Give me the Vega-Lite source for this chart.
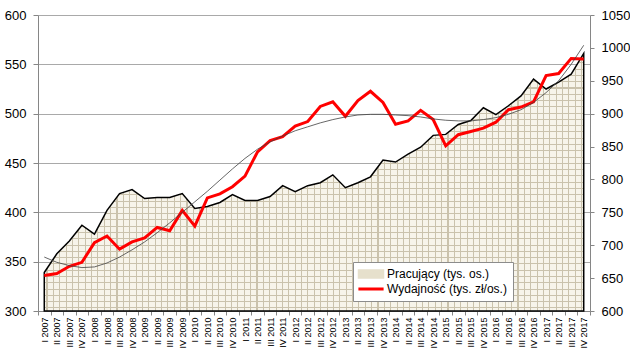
{
"$schema":"https://vega.github.io/schema/vega-lite/v6.json",
"width":552,"height":296,
"autosize":{"type":"none"},
"padding":{"left":38,"top":15,"right":40,"bottom":44},
"background":"white",
"config":{"view":{"stroke":null},"font":"Liberation Sans"},
"data":{"values":[
{"q":"I 2007","prac":339,"wyd":654,"trend":682},
{"q":"II 2007","prac":358,"wyd":657,"trend":674},
{"q":"III 2007","prac":371,"wyd":668,"trend":669},
{"q":"IV 2007","prac":387,"wyd":674,"trend":666},
{"q":"I 2008","prac":378,"wyd":704,"trend":667},
{"q":"II 2008","prac":402,"wyd":714,"trend":673},
{"q":"III 2008","prac":419,"wyd":694,"trend":682},
{"q":"IV 2008","prac":423,"wyd":705,"trend":693},
{"q":"I 2009","prac":414,"wyd":711,"trend":705},
{"q":"II 2009","prac":415,"wyd":727,"trend":719},
{"q":"III 2009","prac":415,"wyd":722,"trend":734},
{"q":"IV 2009","prac":419,"wyd":753,"trend":750},
{"q":"I 2010","prac":404,"wyd":729,"trend":766},
{"q":"II 2010","prac":406,"wyd":772,"trend":782},
{"q":"III 2010","prac":410,"wyd":778,"trend":799},
{"q":"IV 2010","prac":418,"wyd":789,"trend":816},
{"q":"I 2011","prac":412,"wyd":805,"trend":832},
{"q":"II 2011","prac":412,"wyd":842,"trend":846},
{"q":"III 2011","prac":416,"wyd":859,"trend":857},
{"q":"IV 2011","prac":427,"wyd":865,"trend":866},
{"q":"I 2012","prac":421,"wyd":881,"trend":874},
{"q":"II 2012","prac":427,"wyd":888,"trend":880},
{"q":"III 2012","prac":430,"wyd":911,"trend":886},
{"q":"IV 2012","prac":438,"wyd":918,"trend":891},
{"q":"I 2013","prac":425,"wyd":896,"trend":895},
{"q":"II 2013","prac":430,"wyd":920,"trend":898},
{"q":"III 2013","prac":436,"wyd":934,"trend":899},
{"q":"IV 2013","prac":453,"wyd":917,"trend":899},
{"q":"I 2014","prac":451,"wyd":884,"trend":898},
{"q":"II 2014","prac":459,"wyd":889,"trend":897},
{"q":"III 2014","prac":466,"wyd":905,"trend":895},
{"q":"IV 2014","prac":478,"wyd":891,"trend":892},
{"q":"I 2015","prac":479,"wyd":851,"trend":890},
{"q":"II 2015","prac":489,"wyd":868,"trend":889},
{"q":"III 2015","prac":493,"wyd":873,"trend":889},
{"q":"IV 2015","prac":506,"wyd":878,"trend":891},
{"q":"I 2016","prac":499,"wyd":887,"trend":894},
{"q":"II 2016","prac":508,"wyd":906,"trend":899},
{"q":"III 2016","prac":518,"wyd":910,"trend":906},
{"q":"IV 2016","prac":535,"wyd":918,"trend":917},
{"q":"I 2017","prac":525,"wyd":958,"trend":932},
{"q":"II 2017","prac":532,"wyd":961,"trend":950},
{"q":"III 2017","prac":540,"wyd":984,"trend":975},
{"q":"IV 2017","prac":561,"wyd":983,"trend":1004}
]},
"encoding":{"x":{"field":"q","type":"ordinal","sort":null,"scale":{"type":"band","paddingInner":0,"paddingOuter":0},
 "axis":{"title":null,"labelAngle":-90,"labelFontSize":9,"labelColor":"#000000","domainColor":"#868686","tickColor":"#868686","tickSize":4,"tickBand":"extent","labelPadding":2,"grid":false}}},
"layer":[
{"layer":[
 {"mark":{"type":"area","stroke":null,"fill":{"gradient":"linear","x1":0,"y1":0,"x2":0,"y2":1,"stops":[
{"offset":0,"color":"#f7f4ea"},
{"offset":0.01,"color":"#f7f4ea"},{"offset":0.01,"color":"#cac2ac"},{"offset":0.014,"color":"#cac2ac"},{"offset":0.014,"color":"#f7f4ea"},
{"offset":0.0344,"color":"#f7f4ea"},{"offset":0.0344,"color":"#cac2ac"},{"offset":0.0384,"color":"#cac2ac"},{"offset":0.0384,"color":"#f7f4ea"},
{"offset":0.0588,"color":"#f7f4ea"},{"offset":0.0588,"color":"#cac2ac"},{"offset":0.0628,"color":"#cac2ac"},{"offset":0.0628,"color":"#f7f4ea"},
{"offset":0.0832,"color":"#f7f4ea"},{"offset":0.0832,"color":"#cac2ac"},{"offset":0.0872,"color":"#cac2ac"},{"offset":0.0872,"color":"#f7f4ea"},
{"offset":0.1076,"color":"#f7f4ea"},{"offset":0.1076,"color":"#cac2ac"},{"offset":0.1116,"color":"#cac2ac"},{"offset":0.1116,"color":"#f7f4ea"},
{"offset":0.132,"color":"#f7f4ea"},{"offset":0.132,"color":"#cac2ac"},{"offset":0.136,"color":"#cac2ac"},{"offset":0.136,"color":"#f7f4ea"},
{"offset":0.1564,"color":"#f7f4ea"},{"offset":0.1564,"color":"#cac2ac"},{"offset":0.1604,"color":"#cac2ac"},{"offset":0.1604,"color":"#f7f4ea"},
{"offset":0.1808,"color":"#f7f4ea"},{"offset":0.1808,"color":"#cac2ac"},{"offset":0.1848,"color":"#cac2ac"},{"offset":0.1848,"color":"#f7f4ea"},
{"offset":0.2052,"color":"#f7f4ea"},{"offset":0.2052,"color":"#cac2ac"},{"offset":0.2092,"color":"#cac2ac"},{"offset":0.2092,"color":"#f7f4ea"},
{"offset":0.2296,"color":"#f7f4ea"},{"offset":0.2296,"color":"#cac2ac"},{"offset":0.2336,"color":"#cac2ac"},{"offset":0.2336,"color":"#f7f4ea"},
{"offset":0.254,"color":"#f7f4ea"},{"offset":0.254,"color":"#cac2ac"},{"offset":0.258,"color":"#cac2ac"},{"offset":0.258,"color":"#f7f4ea"},
{"offset":0.2784,"color":"#f7f4ea"},{"offset":0.2784,"color":"#cac2ac"},{"offset":0.2824,"color":"#cac2ac"},{"offset":0.2824,"color":"#f7f4ea"},
{"offset":0.3028,"color":"#f7f4ea"},{"offset":0.3028,"color":"#cac2ac"},{"offset":0.3068,"color":"#cac2ac"},{"offset":0.3068,"color":"#f7f4ea"},
{"offset":0.3272,"color":"#f7f4ea"},{"offset":0.3272,"color":"#cac2ac"},{"offset":0.3312,"color":"#cac2ac"},{"offset":0.3312,"color":"#f7f4ea"},
{"offset":0.3516,"color":"#f7f4ea"},{"offset":0.3516,"color":"#cac2ac"},{"offset":0.3556,"color":"#cac2ac"},{"offset":0.3556,"color":"#f7f4ea"},
{"offset":0.376,"color":"#f7f4ea"},{"offset":0.376,"color":"#cac2ac"},{"offset":0.38,"color":"#cac2ac"},{"offset":0.38,"color":"#f7f4ea"},
{"offset":0.4004,"color":"#f7f4ea"},{"offset":0.4004,"color":"#cac2ac"},{"offset":0.4044,"color":"#cac2ac"},{"offset":0.4044,"color":"#f7f4ea"},
{"offset":0.4248,"color":"#f7f4ea"},{"offset":0.4248,"color":"#cac2ac"},{"offset":0.4288,"color":"#cac2ac"},{"offset":0.4288,"color":"#f7f4ea"},
{"offset":0.4492,"color":"#f7f4ea"},{"offset":0.4492,"color":"#cac2ac"},{"offset":0.4532,"color":"#cac2ac"},{"offset":0.4532,"color":"#f7f4ea"},
{"offset":0.4736,"color":"#f7f4ea"},{"offset":0.4736,"color":"#cac2ac"},{"offset":0.4776,"color":"#cac2ac"},{"offset":0.4776,"color":"#f7f4ea"},
{"offset":0.498,"color":"#f7f4ea"},{"offset":0.498,"color":"#cac2ac"},{"offset":0.502,"color":"#cac2ac"},{"offset":0.502,"color":"#f7f4ea"},
{"offset":0.5224,"color":"#f7f4ea"},{"offset":0.5224,"color":"#cac2ac"},{"offset":0.5264,"color":"#cac2ac"},{"offset":0.5264,"color":"#f7f4ea"},
{"offset":0.5468,"color":"#f7f4ea"},{"offset":0.5468,"color":"#cac2ac"},{"offset":0.5508,"color":"#cac2ac"},{"offset":0.5508,"color":"#f7f4ea"},
{"offset":0.5712,"color":"#f7f4ea"},{"offset":0.5712,"color":"#cac2ac"},{"offset":0.5752,"color":"#cac2ac"},{"offset":0.5752,"color":"#f7f4ea"},
{"offset":0.5956,"color":"#f7f4ea"},{"offset":0.5956,"color":"#cac2ac"},{"offset":0.5996,"color":"#cac2ac"},{"offset":0.5996,"color":"#f7f4ea"},
{"offset":0.62,"color":"#f7f4ea"},{"offset":0.62,"color":"#cac2ac"},{"offset":0.624,"color":"#cac2ac"},{"offset":0.624,"color":"#f7f4ea"},
{"offset":0.6444,"color":"#f7f4ea"},{"offset":0.6444,"color":"#cac2ac"},{"offset":0.6484,"color":"#cac2ac"},{"offset":0.6484,"color":"#f7f4ea"},
{"offset":0.6688,"color":"#f7f4ea"},{"offset":0.6688,"color":"#cac2ac"},{"offset":0.6728,"color":"#cac2ac"},{"offset":0.6728,"color":"#f7f4ea"},
{"offset":0.6932,"color":"#f7f4ea"},{"offset":0.6932,"color":"#cac2ac"},{"offset":0.6972,"color":"#cac2ac"},{"offset":0.6972,"color":"#f7f4ea"},
{"offset":0.7176,"color":"#f7f4ea"},{"offset":0.7176,"color":"#cac2ac"},{"offset":0.7216,"color":"#cac2ac"},{"offset":0.7216,"color":"#f7f4ea"},
{"offset":0.742,"color":"#f7f4ea"},{"offset":0.742,"color":"#cac2ac"},{"offset":0.746,"color":"#cac2ac"},{"offset":0.746,"color":"#f7f4ea"},
{"offset":0.7664,"color":"#f7f4ea"},{"offset":0.7664,"color":"#cac2ac"},{"offset":0.7704,"color":"#cac2ac"},{"offset":0.7704,"color":"#f7f4ea"},
{"offset":0.7908,"color":"#f7f4ea"},{"offset":0.7908,"color":"#cac2ac"},{"offset":0.7948,"color":"#cac2ac"},{"offset":0.7948,"color":"#f7f4ea"},
{"offset":0.8152,"color":"#f7f4ea"},{"offset":0.8152,"color":"#cac2ac"},{"offset":0.8192,"color":"#cac2ac"},{"offset":0.8192,"color":"#f7f4ea"},
{"offset":0.8396,"color":"#f7f4ea"},{"offset":0.8396,"color":"#cac2ac"},{"offset":0.8436,"color":"#cac2ac"},{"offset":0.8436,"color":"#f7f4ea"},
{"offset":0.864,"color":"#f7f4ea"},{"offset":0.864,"color":"#cac2ac"},{"offset":0.868,"color":"#cac2ac"},{"offset":0.868,"color":"#f7f4ea"},
{"offset":0.8884,"color":"#f7f4ea"},{"offset":0.8884,"color":"#cac2ac"},{"offset":0.8924,"color":"#cac2ac"},{"offset":0.8924,"color":"#f7f4ea"},
{"offset":0.9128,"color":"#f7f4ea"},{"offset":0.9128,"color":"#cac2ac"},{"offset":0.9168,"color":"#cac2ac"},{"offset":0.9168,"color":"#f7f4ea"},
{"offset":0.9372,"color":"#f7f4ea"},{"offset":0.9372,"color":"#cac2ac"},{"offset":0.9412,"color":"#cac2ac"},{"offset":0.9412,"color":"#f7f4ea"},
{"offset":0.9616,"color":"#f7f4ea"},{"offset":0.9616,"color":"#cac2ac"},{"offset":0.9656,"color":"#cac2ac"},{"offset":0.9656,"color":"#f7f4ea"},
{"offset":0.986,"color":"#f7f4ea"},{"offset":0.986,"color":"#cac2ac"},{"offset":0.99,"color":"#cac2ac"},{"offset":0.99,"color":"#f7f4ea"},
{"offset":1,"color":"#f7f4ea"}
]}},
 "encoding":{"y":{"field":"prac","type":"quantitative","scale":{"domain":[300,600],"nice":false,"zero":false},
  "axis":{"title":null,"values":[300,350,400,450,500,550,600],"grid":true,"gridColor":"#a9a9a9","domainColor":"#868686","tickColor":"#868686","tickSize":5,"labelPadding":7,"labelFontSize":13,"labelColor":"#000000"}},
  "y2":{"datum":300}}},
 {"mark":{"type":"area","stroke":"#000000","strokeWidth":1.5,"fill":{"gradient":"linear","x1":0,"y1":0,"x2":1,"y2":0,"stops":[
{"offset":0.004,"color":"rgba(247,244,234,0)"},{"offset":0.004,"color":"#cac2ac"},{"offset":0.006,"color":"#cac2ac"},{"offset":0.006,"color":"rgba(247,244,234,0)"},
{"offset":0.0158,"color":"rgba(247,244,234,0)"},{"offset":0.0158,"color":"#cac2ac"},{"offset":0.0178,"color":"#cac2ac"},{"offset":0.0178,"color":"rgba(247,244,234,0)"},
{"offset":0.0276,"color":"rgba(247,244,234,0)"},{"offset":0.0276,"color":"#cac2ac"},{"offset":0.0296,"color":"#cac2ac"},{"offset":0.0296,"color":"rgba(247,244,234,0)"},
{"offset":0.0394,"color":"rgba(247,244,234,0)"},{"offset":0.0394,"color":"#cac2ac"},{"offset":0.0414,"color":"#cac2ac"},{"offset":0.0414,"color":"rgba(247,244,234,0)"},
{"offset":0.0512,"color":"rgba(247,244,234,0)"},{"offset":0.0512,"color":"#cac2ac"},{"offset":0.0532,"color":"#cac2ac"},{"offset":0.0532,"color":"rgba(247,244,234,0)"},
{"offset":0.063,"color":"rgba(247,244,234,0)"},{"offset":0.063,"color":"#cac2ac"},{"offset":0.065,"color":"#cac2ac"},{"offset":0.065,"color":"rgba(247,244,234,0)"},
{"offset":0.0748,"color":"rgba(247,244,234,0)"},{"offset":0.0748,"color":"#cac2ac"},{"offset":0.0768,"color":"#cac2ac"},{"offset":0.0768,"color":"rgba(247,244,234,0)"},
{"offset":0.0866,"color":"rgba(247,244,234,0)"},{"offset":0.0866,"color":"#cac2ac"},{"offset":0.0886,"color":"#cac2ac"},{"offset":0.0886,"color":"rgba(247,244,234,0)"},
{"offset":0.0984,"color":"rgba(247,244,234,0)"},{"offset":0.0984,"color":"#cac2ac"},{"offset":0.1004,"color":"#cac2ac"},{"offset":0.1004,"color":"rgba(247,244,234,0)"},
{"offset":0.1102,"color":"rgba(247,244,234,0)"},{"offset":0.1102,"color":"#cac2ac"},{"offset":0.1122,"color":"#cac2ac"},{"offset":0.1122,"color":"rgba(247,244,234,0)"},
{"offset":0.122,"color":"rgba(247,244,234,0)"},{"offset":0.122,"color":"#cac2ac"},{"offset":0.124,"color":"#cac2ac"},{"offset":0.124,"color":"rgba(247,244,234,0)"},
{"offset":0.1338,"color":"rgba(247,244,234,0)"},{"offset":0.1338,"color":"#cac2ac"},{"offset":0.1358,"color":"#cac2ac"},{"offset":0.1358,"color":"rgba(247,244,234,0)"},
{"offset":0.1456,"color":"rgba(247,244,234,0)"},{"offset":0.1456,"color":"#cac2ac"},{"offset":0.1476,"color":"#cac2ac"},{"offset":0.1476,"color":"rgba(247,244,234,0)"},
{"offset":0.1574,"color":"rgba(247,244,234,0)"},{"offset":0.1574,"color":"#cac2ac"},{"offset":0.1594,"color":"#cac2ac"},{"offset":0.1594,"color":"rgba(247,244,234,0)"},
{"offset":0.1692,"color":"rgba(247,244,234,0)"},{"offset":0.1692,"color":"#cac2ac"},{"offset":0.1712,"color":"#cac2ac"},{"offset":0.1712,"color":"rgba(247,244,234,0)"},
{"offset":0.181,"color":"rgba(247,244,234,0)"},{"offset":0.181,"color":"#cac2ac"},{"offset":0.183,"color":"#cac2ac"},{"offset":0.183,"color":"rgba(247,244,234,0)"},
{"offset":0.1928,"color":"rgba(247,244,234,0)"},{"offset":0.1928,"color":"#cac2ac"},{"offset":0.1948,"color":"#cac2ac"},{"offset":0.1948,"color":"rgba(247,244,234,0)"},
{"offset":0.2046,"color":"rgba(247,244,234,0)"},{"offset":0.2046,"color":"#cac2ac"},{"offset":0.2066,"color":"#cac2ac"},{"offset":0.2066,"color":"rgba(247,244,234,0)"},
{"offset":0.2164,"color":"rgba(247,244,234,0)"},{"offset":0.2164,"color":"#cac2ac"},{"offset":0.2184,"color":"#cac2ac"},{"offset":0.2184,"color":"rgba(247,244,234,0)"},
{"offset":0.2282,"color":"rgba(247,244,234,0)"},{"offset":0.2282,"color":"#cac2ac"},{"offset":0.2302,"color":"#cac2ac"},{"offset":0.2302,"color":"rgba(247,244,234,0)"},
{"offset":0.24,"color":"rgba(247,244,234,0)"},{"offset":0.24,"color":"#cac2ac"},{"offset":0.242,"color":"#cac2ac"},{"offset":0.242,"color":"rgba(247,244,234,0)"},
{"offset":0.2518,"color":"rgba(247,244,234,0)"},{"offset":0.2518,"color":"#cac2ac"},{"offset":0.2538,"color":"#cac2ac"},{"offset":0.2538,"color":"rgba(247,244,234,0)"},
{"offset":0.2636,"color":"rgba(247,244,234,0)"},{"offset":0.2636,"color":"#cac2ac"},{"offset":0.2656,"color":"#cac2ac"},{"offset":0.2656,"color":"rgba(247,244,234,0)"},
{"offset":0.2754,"color":"rgba(247,244,234,0)"},{"offset":0.2754,"color":"#cac2ac"},{"offset":0.2774,"color":"#cac2ac"},{"offset":0.2774,"color":"rgba(247,244,234,0)"},
{"offset":0.2872,"color":"rgba(247,244,234,0)"},{"offset":0.2872,"color":"#cac2ac"},{"offset":0.2892,"color":"#cac2ac"},{"offset":0.2892,"color":"rgba(247,244,234,0)"},
{"offset":0.299,"color":"rgba(247,244,234,0)"},{"offset":0.299,"color":"#cac2ac"},{"offset":0.301,"color":"#cac2ac"},{"offset":0.301,"color":"rgba(247,244,234,0)"},
{"offset":0.3108,"color":"rgba(247,244,234,0)"},{"offset":0.3108,"color":"#cac2ac"},{"offset":0.3128,"color":"#cac2ac"},{"offset":0.3128,"color":"rgba(247,244,234,0)"},
{"offset":0.3226,"color":"rgba(247,244,234,0)"},{"offset":0.3226,"color":"#cac2ac"},{"offset":0.3246,"color":"#cac2ac"},{"offset":0.3246,"color":"rgba(247,244,234,0)"},
{"offset":0.3344,"color":"rgba(247,244,234,0)"},{"offset":0.3344,"color":"#cac2ac"},{"offset":0.3364,"color":"#cac2ac"},{"offset":0.3364,"color":"rgba(247,244,234,0)"},
{"offset":0.3462,"color":"rgba(247,244,234,0)"},{"offset":0.3462,"color":"#cac2ac"},{"offset":0.3482,"color":"#cac2ac"},{"offset":0.3482,"color":"rgba(247,244,234,0)"},
{"offset":0.358,"color":"rgba(247,244,234,0)"},{"offset":0.358,"color":"#cac2ac"},{"offset":0.36,"color":"#cac2ac"},{"offset":0.36,"color":"rgba(247,244,234,0)"},
{"offset":0.3698,"color":"rgba(247,244,234,0)"},{"offset":0.3698,"color":"#cac2ac"},{"offset":0.3718,"color":"#cac2ac"},{"offset":0.3718,"color":"rgba(247,244,234,0)"},
{"offset":0.3816,"color":"rgba(247,244,234,0)"},{"offset":0.3816,"color":"#cac2ac"},{"offset":0.3836,"color":"#cac2ac"},{"offset":0.3836,"color":"rgba(247,244,234,0)"},
{"offset":0.3934,"color":"rgba(247,244,234,0)"},{"offset":0.3934,"color":"#cac2ac"},{"offset":0.3954,"color":"#cac2ac"},{"offset":0.3954,"color":"rgba(247,244,234,0)"},
{"offset":0.4052,"color":"rgba(247,244,234,0)"},{"offset":0.4052,"color":"#cac2ac"},{"offset":0.4072,"color":"#cac2ac"},{"offset":0.4072,"color":"rgba(247,244,234,0)"},
{"offset":0.417,"color":"rgba(247,244,234,0)"},{"offset":0.417,"color":"#cac2ac"},{"offset":0.419,"color":"#cac2ac"},{"offset":0.419,"color":"rgba(247,244,234,0)"},
{"offset":0.4288,"color":"rgba(247,244,234,0)"},{"offset":0.4288,"color":"#cac2ac"},{"offset":0.4308,"color":"#cac2ac"},{"offset":0.4308,"color":"rgba(247,244,234,0)"},
{"offset":0.4406,"color":"rgba(247,244,234,0)"},{"offset":0.4406,"color":"#cac2ac"},{"offset":0.4426,"color":"#cac2ac"},{"offset":0.4426,"color":"rgba(247,244,234,0)"},
{"offset":0.4524,"color":"rgba(247,244,234,0)"},{"offset":0.4524,"color":"#cac2ac"},{"offset":0.4544,"color":"#cac2ac"},{"offset":0.4544,"color":"rgba(247,244,234,0)"},
{"offset":0.4642,"color":"rgba(247,244,234,0)"},{"offset":0.4642,"color":"#cac2ac"},{"offset":0.4662,"color":"#cac2ac"},{"offset":0.4662,"color":"rgba(247,244,234,0)"},
{"offset":0.476,"color":"rgba(247,244,234,0)"},{"offset":0.476,"color":"#cac2ac"},{"offset":0.478,"color":"#cac2ac"},{"offset":0.478,"color":"rgba(247,244,234,0)"},
{"offset":0.4878,"color":"rgba(247,244,234,0)"},{"offset":0.4878,"color":"#cac2ac"},{"offset":0.4898,"color":"#cac2ac"},{"offset":0.4898,"color":"rgba(247,244,234,0)"},
{"offset":0.4996,"color":"rgba(247,244,234,0)"},{"offset":0.4996,"color":"#cac2ac"},{"offset":0.5016,"color":"#cac2ac"},{"offset":0.5016,"color":"rgba(247,244,234,0)"},
{"offset":0.5114,"color":"rgba(247,244,234,0)"},{"offset":0.5114,"color":"#cac2ac"},{"offset":0.5134,"color":"#cac2ac"},{"offset":0.5134,"color":"rgba(247,244,234,0)"},
{"offset":0.5232,"color":"rgba(247,244,234,0)"},{"offset":0.5232,"color":"#cac2ac"},{"offset":0.5252,"color":"#cac2ac"},{"offset":0.5252,"color":"rgba(247,244,234,0)"},
{"offset":0.535,"color":"rgba(247,244,234,0)"},{"offset":0.535,"color":"#cac2ac"},{"offset":0.537,"color":"#cac2ac"},{"offset":0.537,"color":"rgba(247,244,234,0)"},
{"offset":0.5468,"color":"rgba(247,244,234,0)"},{"offset":0.5468,"color":"#cac2ac"},{"offset":0.5488,"color":"#cac2ac"},{"offset":0.5488,"color":"rgba(247,244,234,0)"},
{"offset":0.5586,"color":"rgba(247,244,234,0)"},{"offset":0.5586,"color":"#cac2ac"},{"offset":0.5606,"color":"#cac2ac"},{"offset":0.5606,"color":"rgba(247,244,234,0)"},
{"offset":0.5704,"color":"rgba(247,244,234,0)"},{"offset":0.5704,"color":"#cac2ac"},{"offset":0.5724,"color":"#cac2ac"},{"offset":0.5724,"color":"rgba(247,244,234,0)"},
{"offset":0.5822,"color":"rgba(247,244,234,0)"},{"offset":0.5822,"color":"#cac2ac"},{"offset":0.5842,"color":"#cac2ac"},{"offset":0.5842,"color":"rgba(247,244,234,0)"},
{"offset":0.594,"color":"rgba(247,244,234,0)"},{"offset":0.594,"color":"#cac2ac"},{"offset":0.596,"color":"#cac2ac"},{"offset":0.596,"color":"rgba(247,244,234,0)"},
{"offset":0.6058,"color":"rgba(247,244,234,0)"},{"offset":0.6058,"color":"#cac2ac"},{"offset":0.6078,"color":"#cac2ac"},{"offset":0.6078,"color":"rgba(247,244,234,0)"},
{"offset":0.6176,"color":"rgba(247,244,234,0)"},{"offset":0.6176,"color":"#cac2ac"},{"offset":0.6196,"color":"#cac2ac"},{"offset":0.6196,"color":"rgba(247,244,234,0)"},
{"offset":0.6294,"color":"rgba(247,244,234,0)"},{"offset":0.6294,"color":"#cac2ac"},{"offset":0.6314,"color":"#cac2ac"},{"offset":0.6314,"color":"rgba(247,244,234,0)"},
{"offset":0.6412,"color":"rgba(247,244,234,0)"},{"offset":0.6412,"color":"#cac2ac"},{"offset":0.6432,"color":"#cac2ac"},{"offset":0.6432,"color":"rgba(247,244,234,0)"},
{"offset":0.653,"color":"rgba(247,244,234,0)"},{"offset":0.653,"color":"#cac2ac"},{"offset":0.655,"color":"#cac2ac"},{"offset":0.655,"color":"rgba(247,244,234,0)"},
{"offset":0.6648,"color":"rgba(247,244,234,0)"},{"offset":0.6648,"color":"#cac2ac"},{"offset":0.6668,"color":"#cac2ac"},{"offset":0.6668,"color":"rgba(247,244,234,0)"},
{"offset":0.6766,"color":"rgba(247,244,234,0)"},{"offset":0.6766,"color":"#cac2ac"},{"offset":0.6786,"color":"#cac2ac"},{"offset":0.6786,"color":"rgba(247,244,234,0)"},
{"offset":0.6884,"color":"rgba(247,244,234,0)"},{"offset":0.6884,"color":"#cac2ac"},{"offset":0.6904,"color":"#cac2ac"},{"offset":0.6904,"color":"rgba(247,244,234,0)"},
{"offset":0.7002,"color":"rgba(247,244,234,0)"},{"offset":0.7002,"color":"#cac2ac"},{"offset":0.7022,"color":"#cac2ac"},{"offset":0.7022,"color":"rgba(247,244,234,0)"},
{"offset":0.712,"color":"rgba(247,244,234,0)"},{"offset":0.712,"color":"#cac2ac"},{"offset":0.714,"color":"#cac2ac"},{"offset":0.714,"color":"rgba(247,244,234,0)"},
{"offset":0.7238,"color":"rgba(247,244,234,0)"},{"offset":0.7238,"color":"#cac2ac"},{"offset":0.7258,"color":"#cac2ac"},{"offset":0.7258,"color":"rgba(247,244,234,0)"},
{"offset":0.7356,"color":"rgba(247,244,234,0)"},{"offset":0.7356,"color":"#cac2ac"},{"offset":0.7376,"color":"#cac2ac"},{"offset":0.7376,"color":"rgba(247,244,234,0)"},
{"offset":0.7474,"color":"rgba(247,244,234,0)"},{"offset":0.7474,"color":"#cac2ac"},{"offset":0.7494,"color":"#cac2ac"},{"offset":0.7494,"color":"rgba(247,244,234,0)"},
{"offset":0.7592,"color":"rgba(247,244,234,0)"},{"offset":0.7592,"color":"#cac2ac"},{"offset":0.7612,"color":"#cac2ac"},{"offset":0.7612,"color":"rgba(247,244,234,0)"},
{"offset":0.771,"color":"rgba(247,244,234,0)"},{"offset":0.771,"color":"#cac2ac"},{"offset":0.773,"color":"#cac2ac"},{"offset":0.773,"color":"rgba(247,244,234,0)"},
{"offset":0.7828,"color":"rgba(247,244,234,0)"},{"offset":0.7828,"color":"#cac2ac"},{"offset":0.7848,"color":"#cac2ac"},{"offset":0.7848,"color":"rgba(247,244,234,0)"},
{"offset":0.7946,"color":"rgba(247,244,234,0)"},{"offset":0.7946,"color":"#cac2ac"},{"offset":0.7966,"color":"#cac2ac"},{"offset":0.7966,"color":"rgba(247,244,234,0)"},
{"offset":0.8064,"color":"rgba(247,244,234,0)"},{"offset":0.8064,"color":"#cac2ac"},{"offset":0.8084,"color":"#cac2ac"},{"offset":0.8084,"color":"rgba(247,244,234,0)"},
{"offset":0.8182,"color":"rgba(247,244,234,0)"},{"offset":0.8182,"color":"#cac2ac"},{"offset":0.8202,"color":"#cac2ac"},{"offset":0.8202,"color":"rgba(247,244,234,0)"},
{"offset":0.83,"color":"rgba(247,244,234,0)"},{"offset":0.83,"color":"#cac2ac"},{"offset":0.832,"color":"#cac2ac"},{"offset":0.832,"color":"rgba(247,244,234,0)"},
{"offset":0.8418,"color":"rgba(247,244,234,0)"},{"offset":0.8418,"color":"#cac2ac"},{"offset":0.8438,"color":"#cac2ac"},{"offset":0.8438,"color":"rgba(247,244,234,0)"},
{"offset":0.8536,"color":"rgba(247,244,234,0)"},{"offset":0.8536,"color":"#cac2ac"},{"offset":0.8556,"color":"#cac2ac"},{"offset":0.8556,"color":"rgba(247,244,234,0)"},
{"offset":0.8654,"color":"rgba(247,244,234,0)"},{"offset":0.8654,"color":"#cac2ac"},{"offset":0.8674,"color":"#cac2ac"},{"offset":0.8674,"color":"rgba(247,244,234,0)"},
{"offset":0.8772,"color":"rgba(247,244,234,0)"},{"offset":0.8772,"color":"#cac2ac"},{"offset":0.8792,"color":"#cac2ac"},{"offset":0.8792,"color":"rgba(247,244,234,0)"},
{"offset":0.889,"color":"rgba(247,244,234,0)"},{"offset":0.889,"color":"#cac2ac"},{"offset":0.891,"color":"#cac2ac"},{"offset":0.891,"color":"rgba(247,244,234,0)"},
{"offset":0.9008,"color":"rgba(247,244,234,0)"},{"offset":0.9008,"color":"#cac2ac"},{"offset":0.9028,"color":"#cac2ac"},{"offset":0.9028,"color":"rgba(247,244,234,0)"},
{"offset":0.9126,"color":"rgba(247,244,234,0)"},{"offset":0.9126,"color":"#cac2ac"},{"offset":0.9146,"color":"#cac2ac"},{"offset":0.9146,"color":"rgba(247,244,234,0)"},
{"offset":0.9244,"color":"rgba(247,244,234,0)"},{"offset":0.9244,"color":"#cac2ac"},{"offset":0.9264,"color":"#cac2ac"},{"offset":0.9264,"color":"rgba(247,244,234,0)"},
{"offset":0.9362,"color":"rgba(247,244,234,0)"},{"offset":0.9362,"color":"#cac2ac"},{"offset":0.9382,"color":"#cac2ac"},{"offset":0.9382,"color":"rgba(247,244,234,0)"},
{"offset":0.948,"color":"rgba(247,244,234,0)"},{"offset":0.948,"color":"#cac2ac"},{"offset":0.95,"color":"#cac2ac"},{"offset":0.95,"color":"rgba(247,244,234,0)"},
{"offset":0.9598,"color":"rgba(247,244,234,0)"},{"offset":0.9598,"color":"#cac2ac"},{"offset":0.9618,"color":"#cac2ac"},{"offset":0.9618,"color":"rgba(247,244,234,0)"},
{"offset":0.9716,"color":"rgba(247,244,234,0)"},{"offset":0.9716,"color":"#cac2ac"},{"offset":0.9736,"color":"#cac2ac"},{"offset":0.9736,"color":"rgba(247,244,234,0)"},
{"offset":0.9834,"color":"rgba(247,244,234,0)"},{"offset":0.9834,"color":"#cac2ac"},{"offset":0.9854,"color":"#cac2ac"},{"offset":0.9854,"color":"rgba(247,244,234,0)"},
{"offset":0.9952,"color":"rgba(247,244,234,0)"},{"offset":0.9952,"color":"#cac2ac"},{"offset":0.9972,"color":"#cac2ac"},{"offset":0.9972,"color":"rgba(247,244,234,0)"}
]}},
 "encoding":{"y":{"field":"prac","type":"quantitative",
  "axis":{"title":null,"values":[300,350,400,450,500,550,600],"grid":true,"gridColor":"#a9a9a9","domainColor":"#868686","tickColor":"#868686","tickSize":5,"labelPadding":7,"labelFontSize":13,"labelColor":"#000000"}},
  "y2":{"datum":300}}}
]},
{"layer":[
 {"mark":{"type":"line","strokeWidth":3,"strokeJoin":"miter","strokeCap":"butt"},
  "encoding":{"y":{"field":"wyd","type":"quantitative","scale":{"domain":[600,1050],"nice":false,"zero":false},
   "axis":{"orient":"right","title":null,"format":"d","values":[600,650,700,750,800,850,900,950,1000,1050],"grid":false,"domainColor":"#868686","tickColor":"#868686","tickSize":4,"labelPadding":7,"labelFontSize":13,"labelColor":"#000000"}},
   "color":{"datum":"Wydajność (tys. zł/os.)","type":"nominal","scale":{"domain":["Pracujący (tys. os.)","Wydajność (tys. zł/os.)"],"range":["#e6e0cc","#ff0000"]},
    "legend":{"orient":"none","legendX":315,"legendY":247,"title":null,"fillColor":"#ffffff","strokeColor":"#8c8c8c","padding":6,"labelFontSize":12,"labelColor":"#000000","labelOffset":10,"labelLimit":300,"symbolSize":144,"symbolOffset":6,
     "encode":{
      "symbols":{"update":{
      "shape":{"signal":"datum.index === 0 ? 'M-2.1,-0.67H2.1V0.67H-2.1Z' : 'M-2.1,0H2.1'"},
      "fill":{"signal":"datum.index === 0 ? '#e6e0cc' : 'transparent'"},
      "stroke":{"signal":"datum.index === 0 ? '#000000' : '#ff0000'"},
      "strokeWidth":{"signal":"datum.index === 0 ? 1.3 : 3"},
      "opacity":{"value":1}}}}}}}},
 {"mark":{"type":"line","strokeWidth":0.8,"color":"#404040"},
  "encoding":{"y":{"field":"trend","type":"quantitative",
   "axis":{"orient":"right","title":null,"format":"d","values":[600,650,700,750,800,850,900,950,1000,1050],"grid":false,"domainColor":"#868686","tickColor":"#868686","tickSize":4,"labelPadding":7,"labelFontSize":13,"labelColor":"#000000"}}}}
]}
],
"resolve":{"scale":{"y":"independent"}}
}
